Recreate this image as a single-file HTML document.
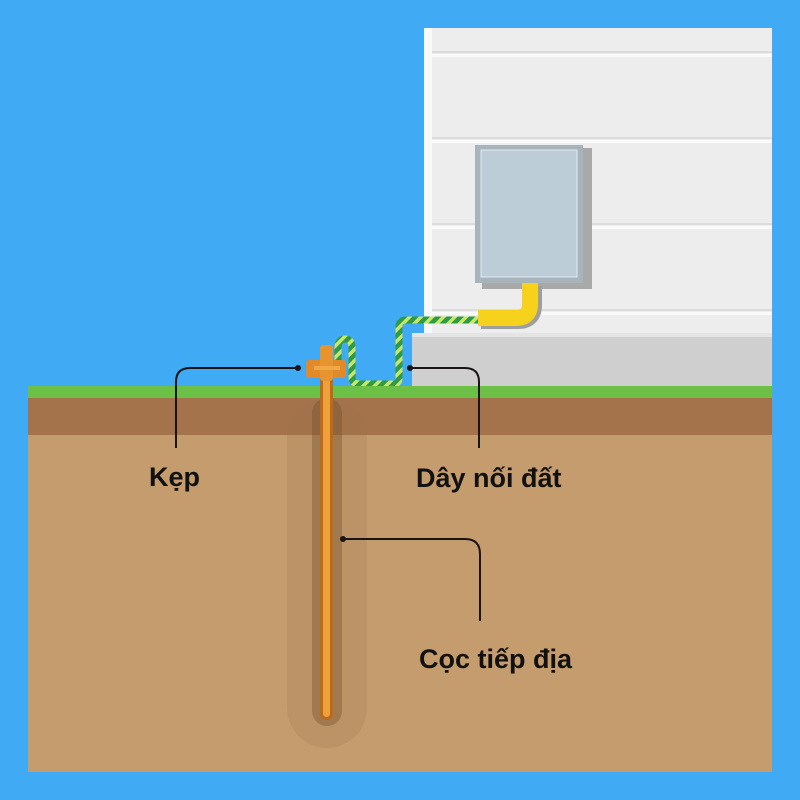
<!DOCTYPE html>
<html><head><meta charset="utf-8"><style>
html,body{margin:0;padding:0;background:#40aaf4;}
svg{display:block}
text{font-family:"Liberation Sans",sans-serif;font-weight:bold;font-size:27px;fill:#111}
</style></head><body>
<svg width="800" height="800" viewBox="0 0 800 800" xmlns="http://www.w3.org/2000/svg">
<defs>
<pattern id="stripe" width="8" height="8" patternUnits="userSpaceOnUse" patternTransform="rotate(45)">
<rect width="8" height="8" fill="#2e9a45"/><rect width="3.5" height="8" fill="#c8e86a"/>
</pattern>
</defs>
<rect width="800" height="800" fill="#40aaf4"/>
<rect x="424" y="28" width="348" height="360" fill="#ededed"/>
<rect x="424" y="28" width="8" height="360" fill="#f8f8f8"/>
<g fill="#dcdcdc">
<rect x="432" y="51" width="340" height="2"/>
<rect x="432" y="137" width="340" height="2"/>
<rect x="432" y="223" width="340" height="2"/>
<rect x="432" y="309" width="340" height="2"/>
</g>
<g fill="#fafafa">
<rect x="432" y="54" width="340" height="3"/>
<rect x="432" y="140" width="340" height="3"/>
<rect x="432" y="226" width="340" height="3"/>
<rect x="432" y="312" width="340" height="3"/>
</g>
<rect x="412" y="336" width="360" height="52" fill="#cfcfcf"/>
<rect x="412" y="333" width="360" height="4" fill="#e4e4e4"/>
<rect x="482" y="148" width="110" height="141" fill="#a9a9a9"/>
<rect x="475" y="145" width="108" height="138" fill="#a8b4bc"/>
<rect x="481" y="150" width="96" height="127" fill="#bccdd8" stroke="#e2ebf0" stroke-width="1"/>
<path d="M481 321 H518 Q534 321 534 305 V286" fill="none" stroke="#9e9e9e" stroke-width="16"/>
<path d="M478 318 H516 Q530 318 530 304 V283" fill="none" stroke="#f7d21d" stroke-width="16"/>
<path d="M478 320 H406 Q399 320 399 327 V378 Q399 384 393 384 H359 Q352 384 352 377 V348 Q352 339 345 339 Q338 339 338 348 V360" fill="none" stroke="url(#stripe)" stroke-width="7"/>
<rect x="28" y="386" width="744" height="12" fill="#6cc045"/>
<rect x="28" y="398" width="744" height="37" fill="#a4734b"/>
<rect x="28" y="435" width="744" height="337" fill="#c49c6d"/>
<rect x="287" y="398" width="80" height="350" rx="40" fill="#9c7048" opacity="0.18"/>
<rect x="312" y="398" width="30" height="328" rx="15" fill="#6e4a28" opacity="0.35"/>
<rect x="320" y="345" width="13" height="375" rx="6" fill="#b96a1e"/>
<rect x="323" y="345" width="7" height="372" rx="3.5" fill="#f0a03a"/>
<rect x="306" y="360" width="40" height="18" rx="3" fill="#e08a2a"/>
<rect x="320" y="345" width="13" height="36" rx="3" fill="#e8942e"/>
<rect x="314" y="366" width="26" height="4" fill="#f0a846"/>
<g fill="none" stroke="#1a1414" stroke-width="2">
<path d="M298 368 H190 Q176 368 176 382 V448"/>
<path d="M410 368 H465 Q479 368 479 382 V448"/>
<path d="M343 539 H465 Q480 539 480 554 V621"/>
</g>
<g fill="#1a1414">
<circle cx="298" cy="368" r="3"/>
<circle cx="410" cy="368" r="3"/>
<circle cx="343" cy="539" r="3"/>
</g>
<text x="149" y="486">Kẹp</text>
<text x="416" y="487">Dây nối đất</text>
<text x="419" y="668">Cọc tiếp địa</text>
</svg>
</body></html>
